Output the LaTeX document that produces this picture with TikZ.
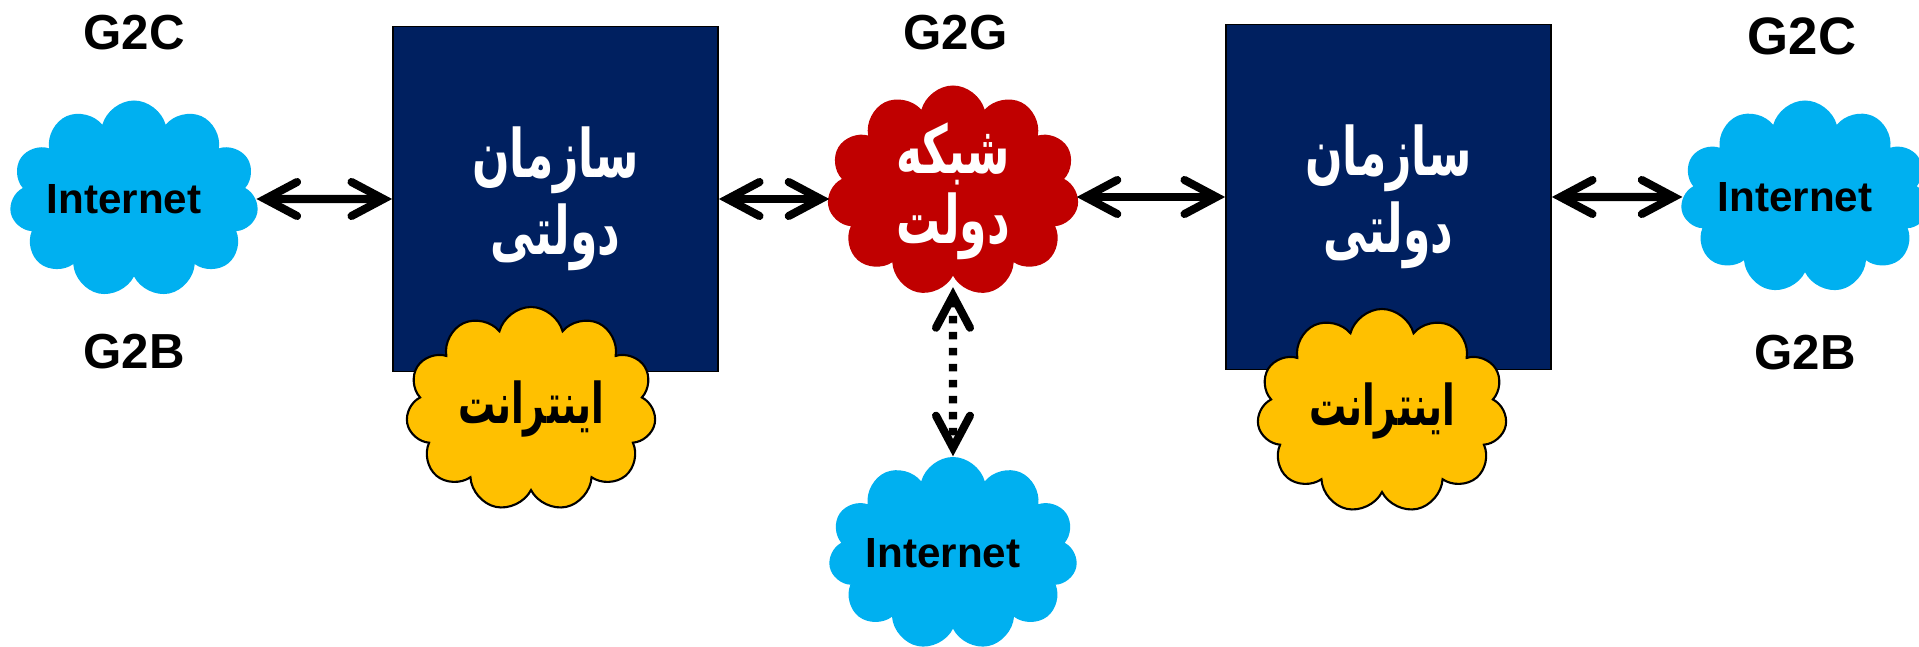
\documentclass[tikz,border=0pt]{standalone}
\usepackage{fontspec}
\setmainfont{Liberation Sans}
\newfontfamily\arabicfont[Script=Arabic, FakeStretch=0.66]{DejaVu Sans}
\TeXXeTstate=1
\usetikzlibrary{shapes.symbols, arrows.meta}
\definecolor{netblue}{HTML}{00B0F0}
\definecolor{govred}{HTML}{C00000}
\definecolor{intrayellow}{HTML}{FFC000}
\definecolor{orgnavy}{HTML}{002060}
\newcommand{\faline}[1]{\makebox[0pt]{\beginR #1\endR}}
\newcommand{\netname}{\makebox[0pt]{Internet\hspace{0.2cm}}}
\tikzstyle{netcloud} = [cloud, 
cloud puffs=11, 
cloud ignores aspect,
minimum width=2.49cm, 
minimum height=1.97cm,
inner sep=0pt,
text centered, 
fill=netblue,
font=\fontsize{12}{14}\selectfont\bfseries]
\tikzstyle{govcloud} = [netcloud, 
minimum width=2.52cm, 
minimum height=2.11cm,
fill=govred,
text=white,
align=center,
font=\arabicfont\fontsize{19}{20}\selectfont\bfseries]
\tikzstyle{intracloud} = [netcloud, 
minimum width=2.50cm, 
minimum height=2.04cm,
draw=black,
line width=0.6pt,
fill=intrayellow,
font=\arabicfont\fontsize{16}{18}\selectfont\bfseries]
\tikzstyle{orgbox} = [rectangle, 
minimum width=3.25cm, 
minimum height=3.45cm,
text centered, 
align=center,
draw=black, 
line width=0.5pt,
fill=orgnavy,
text=white,
font=\arabicfont\fontsize{19}{22}\selectfont\bfseries]
\tikzstyle{tag} = [font=\fontsize{14}{16}\selectfont\bfseries]
\tikzstyle{dblarrow} = [line width=2.3pt, 
{Straight Barb[length=3.2mm, width=3.4mm, line cap=round, line join=miter]}-{Straight Barb[length=3.2mm, width=3.4mm, line cap=round, line join=miter]}]
\tikzstyle{dotarrow} = [dblarrow, dash pattern=on 0.075cm off 0.085cm]

\begin{document}
\begin{tikzpicture} [node distance=2cm, auto]
		\useasboundingbox (0,0) rectangle (19.19,6.46);
		\node (lnet) [netcloud, xshift=1.34cm, yshift=4.47cm] {\netname};
		\node (lbox) [orgbox, right of=lnet, node distance=4.215cm] {\faline{سازمان}\\\faline{دولتی}};
		\node (lintra) [intracloud, below of=lbox, node distance=2.1cm, xshift=-0.245cm] {\faline{اینترانت}};
		\node (gnet) [govcloud, right of=lbox, node distance=3.975cm, yshift=0.08cm] {\faline{شبکه}\\\faline{دولت}};
		\node (bnet) [netcloud, below of=gnet, node distance=3.625cm, minimum height=1.93cm] {\netname};
		\node (rbox) [orgbox, right of=lbox, node distance=8.33cm, yshift=0.02cm] {\faline{سازمان}\\\faline{دولتی}};
		\node (rintra) [intracloud, below of=rbox, node distance=2.14cm, xshift=-0.065cm] {\faline{اینترانت}};
		\node (rnet) [netcloud, right of=rbox, node distance=4.165cm, minimum height=1.93cm] {\netname};
		\node (lg2c) [tag, above of=lnet, node distance=1.66cm] {G2C};
		\node (lg2b) [tag, below of=lnet, node distance=1.53cm] {G2B};
		\node (g2g) [tag, above of=gnet, node distance=1.58cm, xshift=0.025cm] {G2G};
		\node (rg2c) [tag, above of=rnet, node distance=1.61cm, xshift=-0.03cm, font=\fontsize{15}{17}\selectfont\bfseries] {G2C};
		\node (rg2b) [tag, below of=rnet, node distance=1.555cm] {G2B};
		\draw [dblarrow] (lnet) -- (lbox);
		\draw [dblarrow] (lbox.east) -- (gnet.west |- lbox.east);
		\draw [dblarrow] (gnet.east |- rbox.west) -- (rbox.west);
		\draw [dblarrow] (rbox) -- (rnet);
		\draw [dotarrow, shorten <=0.1cm] (gnet) -- (bnet);
	\end{tikzpicture}
\end{document}
